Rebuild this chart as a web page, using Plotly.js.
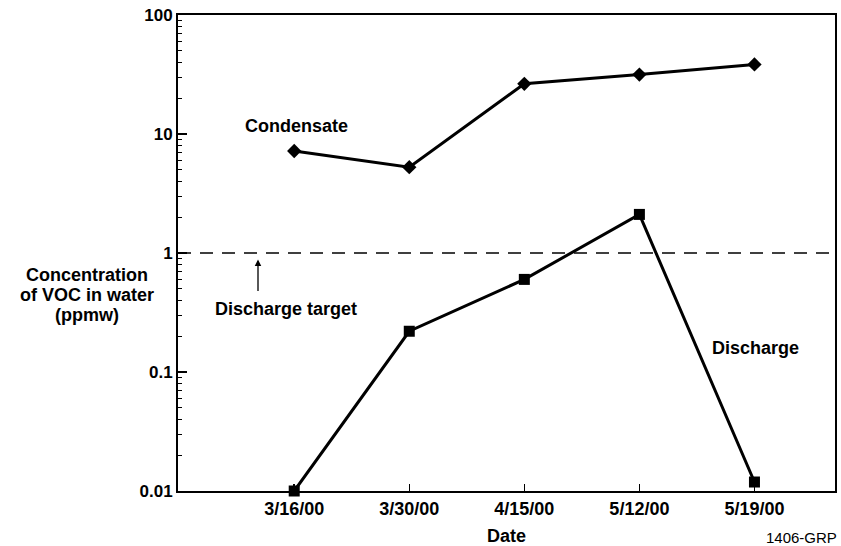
<!DOCTYPE html>
<html>
<head>
<meta charset="utf-8">
<script src="https://cdn.plot.ly/plotly-3.0.1.min.js"></script>
<style>html,body{margin:0;padding:0;background:#fff;}#chart{width:841px;height:546px;}</style>
</head>
<body>
<div id="chart"></div>
<script>
const dates = ["3/16/00", "3/30/00", "4/15/00", "5/12/00", "5/19/00"];
const condensate = [7.2, 5.26, 26.4, 31.6, 38.4];
const discharge = [0.01, 0.22, 0.60, 2.11, 0.0119];
const yTickVals = [0.01, 0.1, 1, 10, 100];
const yTickText = ["0.01", "0.1", "1", "10", "100"];
const yTitleLines = ["Concentration", "of VOC in water", "(ppmw)"];
const dischargeTarget = 1;

const FONT = "Liberation Sans, Arial, sans-serif";
const Y_LOG_RANGE = [-2, 2];
const minorVals = [];
for (let e = -2; e < 2; e++) for (let m = 2; m <= 9; m++) minorVals.push(m * Math.pow(10, e));

const traces = [
  {x: dates, y: condensate, type: "scatter", mode: "lines+markers",
   line: {color: "#000", width: 3},
   marker: {symbol: "diamond", size: 11, color: "#000"}, cliponaxis: false},
  {x: dates, y: discharge, type: "scatter", mode: "lines+markers",
   line: {color: "#000", width: 3},
   marker: {symbol: "square", size: 11, color: "#000"}, cliponaxis: false}
];

const targetPaperY = (Math.log10(dischargeTarget) - Y_LOG_RANGE[0]) / (Y_LOG_RANGE[1] - Y_LOG_RANGE[0]);
const boldFont = {family: FONT, size: 18, weight: "bold", color: "#000"};
const px = (x) => (x - 178) / 657;
const py = (y) => (490.5 - y) / 476;

const annotations = [
  {text: "Condensate", xref: "paper", yref: "paper", x: px(296), y: py(126),
   showarrow: false, xanchor: "center", yanchor: "middle", font: boldFont},
  {text: "Discharge", xref: "paper", yref: "paper", x: px(755), y: py(347),
   showarrow: false, xanchor: "center", yanchor: "middle", font: boldFont},
  {text: "Discharge target", xref: "paper", yref: "paper", x: px(286), y: py(308),
   showarrow: false, xanchor: "center", yanchor: "middle", font: boldFont},
  {text: "", xref: "paper", yref: "paper", x: px(258), y: py(259),
   showarrow: true, arrowhead: 2, arrowsize: 1, arrowwidth: 1.3, arrowcolor: "#000",
   ax: 0, ay: 33},
  {text: "1406-GRP", xref: "paper", yref: "paper", x: px(839), y: py(537),
   showarrow: false, xanchor: "right", yanchor: "middle",
   font: {family: FONT, size: 15, color: "#000"}}
];
yTitleLines.forEach((t, i) => annotations.push({
  text: t, xref: "paper", yref: "paper", x: px(87), y: py(274 + 20 * i),
  showarrow: false, xanchor: "center", yanchor: "middle", font: boldFont
}));

const layout = {
  width: 841, height: 546,
  margin: {l: 178, r: 6, t: 15, b: 55, pad: 0},
  paper_bgcolor: "#fff", plot_bgcolor: "#fff",
  showlegend: false,
  font: {family: FONT, color: "#000"},
  xaxis: {
    type: "category", range: [-1.01, 4.70],
    showline: true, linecolor: "#000", linewidth: 2, mirror: true,
    showgrid: false, zeroline: false,
    ticks: "inside", ticklen: 7, tickwidth: 1.5, tickcolor: "#000",
    tickfont: boldFont,
    title: {text: "Date", font: boldFont, standoff: 12}
  },
  yaxis: {
    type: "log", range: Y_LOG_RANGE,
    showline: true, linecolor: "#000", linewidth: 2, mirror: true,
    showgrid: false, zeroline: false,
    tickmode: "array", tickvals: yTickVals, ticktext: yTickText,
    ticks: "inside", ticklen: 9, tickwidth: 1.5, tickcolor: "#000",
    tickfont: {family: FONT, size: 17, weight: "bold", color: "#000"},
    minor: {tickmode: "array", tickvals: minorVals, ticks: "inside", ticklen: 4, tickwidth: 1.2, tickcolor: "#000", showgrid: false}
  },
  shapes: [
    {type: "line", xref: "paper", x0: 0, x1: 1, yref: "paper",
     y0: targetPaperY, y1: targetPaperY,
     line: {color: "#000", width: 1.5, dash: "13px,9px"}}
  ],
  annotations: annotations
};

Plotly.newPlot("chart", traces, layout, {displayModeBar: false, staticPlot: true});
</script>
</body>
</html>
